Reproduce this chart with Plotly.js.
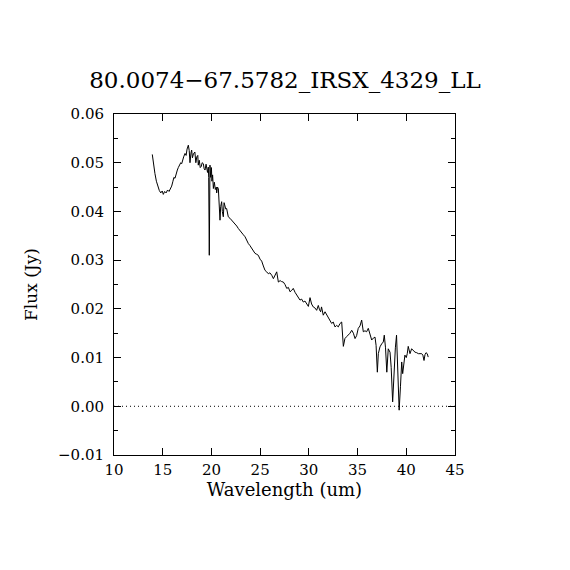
<!DOCTYPE html>
<html>
<head>
<meta charset="utf-8">
<script src="https://cdn.plot.ly/plotly-3.0.1.min.js"></script>
<style>html,body{margin:0;padding:0;background:#fff}#plot{width:570px;height:570px}</style>
</head>
<body>
<div id="plot"></div>
<script>
const wavelength = [13.93,14.0,14.1,14.2,14.35,14.5,14.65,14.8,14.95,15.06,15.2,15.35,15.5,15.65,15.8,15.92,16.05,16.15,16.26,16.4,16.5,16.6,16.75,16.85,16.95,17.05,17.15,17.29,17.4,17.5,17.63,17.72,17.8,17.9,17.97,18.05,18.15,18.3,18.4,18.5,18.6,18.65,18.75,18.85,18.95,19.05,19.17,19.25,19.34,19.45,19.51,19.6,19.68,19.72,19.78,19.85,19.92,20.0,20.05,20.12,20.2,20.3,20.4,20.5,20.54,20.62,20.71,20.8,20.88,20.95,21.05,21.12,21.22,21.3,21.39,21.47,21.56,21.65,21.73,21.9,22.08,22.25,22.42,22.6,22.76,22.93,23.1,23.28,23.45,23.6,23.79,23.95,24.13,24.3,24.47,24.65,24.81,24.99,25.16,25.33,25.5,25.67,25.84,26.0,26.19,26.36,26.53,26.7,26.87,27.05,27.2,27.38,27.55,27.73,27.9,28.07,28.24,28.4,28.58,28.75,28.92,29.09,29.26,29.43,29.6,29.78,29.95,30.12,30.28,30.45,30.62,30.8,30.97,31.1,31.21,31.3,31.48,31.66,31.83,32.0,32.17,32.34,32.5,32.68,32.86,33.02,33.2,33.37,33.54,33.7,33.88,34.05,34.22,34.4,34.57,34.74,34.9,35.07,35.25,35.42,35.59,35.76,35.93,36.1,36.28,36.45,36.62,36.79,36.9,37.03,37.13,37.3,37.47,37.64,37.74,37.87,38.0,38.15,38.33,38.45,38.6,38.75,38.88,39.0,39.12,39.27,39.4,39.53,39.63,39.75,39.86,40.0,40.1,40.2,40.3,40.38,40.55,40.72,40.9,41.07,41.24,41.41,41.58,41.7,41.82,41.92,42.02,42.15,42.25];
const flux = [0.0517,0.0505,0.0495,0.0478,0.0462,0.0450,0.0443,0.0438,0.0442,0.0435,0.0441,0.0438,0.0444,0.0441,0.0447,0.0452,0.0462,0.0470,0.0468,0.0480,0.0485,0.0490,0.0495,0.0500,0.0498,0.0508,0.0512,0.0519,0.0515,0.0528,0.0536,0.0525,0.0500,0.0520,0.0526,0.0510,0.0518,0.0522,0.0500,0.0512,0.0515,0.0495,0.0505,0.0490,0.0492,0.0500,0.0498,0.0488,0.0485,0.0497,0.0488,0.0480,0.0491,0.0470,0.0310,0.0495,0.0470,0.0490,0.0462,0.0475,0.0447,0.0460,0.0445,0.0450,0.0438,0.0450,0.0447,0.0400,0.0382,0.0410,0.0420,0.0400,0.0389,0.0418,0.0413,0.0405,0.0406,0.0395,0.0389,0.0386,0.0382,0.0378,0.0375,0.0370,0.0365,0.0360,0.0355,0.0352,0.0348,0.0340,0.0334,0.0330,0.0324,0.0318,0.0314,0.0312,0.0310,0.0302,0.0298,0.0288,0.0279,0.0276,0.0272,0.0274,0.0269,0.0262,0.0268,0.0276,0.0255,0.0258,0.0256,0.0255,0.0250,0.0242,0.0244,0.0235,0.0238,0.0242,0.0234,0.0228,0.0222,0.0218,0.0220,0.0214,0.0216,0.0211,0.0205,0.0223,0.0210,0.0204,0.0202,0.0197,0.0207,0.0198,0.0194,0.0204,0.0187,0.0194,0.0188,0.0183,0.0177,0.0170,0.0173,0.0163,0.0166,0.0163,0.0170,0.0173,0.0123,0.0139,0.0143,0.0146,0.0150,0.0156,0.0150,0.0139,0.0145,0.0160,0.0165,0.0177,0.0153,0.0155,0.0153,0.0160,0.0150,0.0136,0.0140,0.0142,0.0125,0.0070,0.0108,0.0122,0.0128,0.0132,0.0146,0.0120,0.0070,0.0118,0.0111,0.0080,0.0009,0.0085,0.0120,0.0146,0.0070,-0.0008,0.0040,0.0091,0.0067,0.0090,0.0105,0.0100,0.0108,0.0123,0.0110,0.0108,0.0118,0.0114,0.0111,0.0110,0.0108,0.0108,0.0108,0.0105,0.0094,0.0106,0.0110,0.0108,0.0101];
const xTicks = [10,15,20,25,30,35,40,45];
const yTicks = [-0.01,0.00,0.01,0.02,0.03,0.04,0.05,0.06];
const yTickText = ['\u22120.01','0.00','0.01','0.02','0.03','0.04','0.05','0.06'];
const zeroLevel = 0;

const font = 'DejaVu Serif, Liberation Serif, serif';
const trace = {x: wavelength, y: flux, type: 'scatter', mode: 'lines',
  line: {color: '#000', width: 1}, hoverinfo: 'skip'};
const layout = {
  width: 570, height: 570,
  margin: {l: 114, r: 115, t: 114, b: 115},
  paper_bgcolor: '#fff', plot_bgcolor: '#fff',
  showlegend: false,
  font: {family: font, color: '#000', size: 15},
  title: {text: '80.0074\u221267.5782_IRSX_4329_LL', font: {family: font, size: 23, color: '#000'},
    x: 0.5, xanchor: 'center', y: 1 - 88/570, yanchor: 'bottom', yref: 'container'},
  xaxis: {range: [10, 45], tickvals: xTicks, ticktext: xTicks.map(String), ticks: 'inside', ticklen: 7,
    tickcolor: '#000', showline: true, linecolor: '#000', linewidth: 1, mirror: 'ticks',
    showgrid: false, zeroline: false, tickfont: {family: font, size: 15}, ticklabelstandoff: 1,
    title: {text: 'Wavelength (um)', font: {family: font, size: 18}, standoff: 5}},
  yaxis: {range: [-0.01, 0.06], tickvals: yTicks, ticktext: yTickText, ticks: 'inside', ticklen: 7,
    tickcolor: '#000', showline: true, linecolor: '#000', linewidth: 1, mirror: 'ticks',
    showgrid: false, zeroline: false, tickfont: {family: font, size: 15}, ticklabelstandoff: 6,
    minor: {dtick: 0.005, ticks: 'inside', ticklen: 4, tickcolor: '#000', showgrid: false},
    title: {text: 'Flux (Jy)', font: {family: font, size: 17}, standoff: 16}},
  shapes: [{type: 'line', xref: 'paper', x0: 0, x1: 1, yref: 'y', y0: zeroLevel, y1: zeroLevel,
    line: {color: '#000', width: 1, dash: '1px,3px'}, layer: 'below'}]
};
Plotly.newPlot('plot', [trace], layout, {staticPlot: true, displayModeBar: false});
</script>
</body>
</html>
